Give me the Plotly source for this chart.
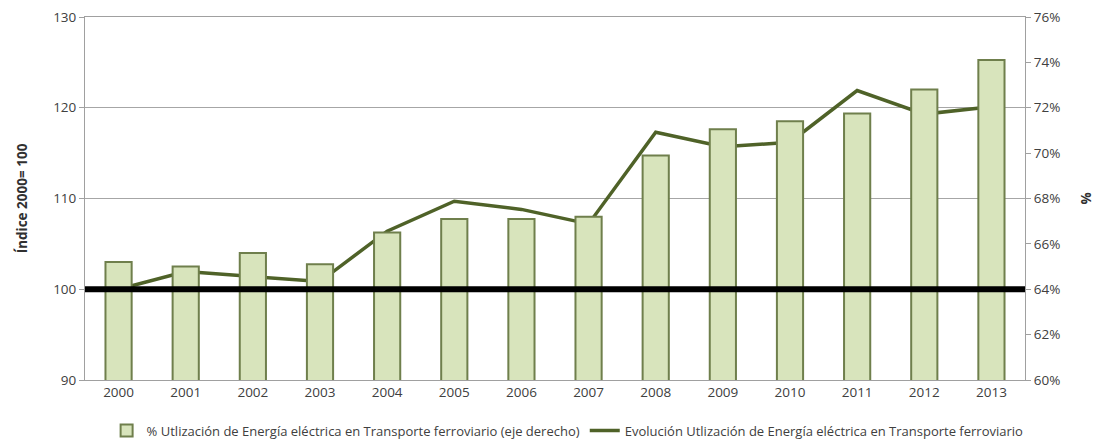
import plotly.graph_objects as go

years = ["2000", "2001", "2002", "2003", "2004", "2005", "2006",
         "2007", "2008", "2009", "2010", "2011", "2012", "2013"]
pct_electric = [65.2, 65.0, 65.6, 65.1, 66.5, 67.1, 67.1,
                67.2, 69.9, 71.05, 71.4, 71.75, 72.8, 74.1]
index_evolution = [100.0, 101.95, 101.4, 100.85, 106.4, 109.7, 108.8,
                   107.2, 117.3, 115.7, 116.2, 121.9, 119.3, 120.1]
base_index = 100
left_ticks = [90, 100, 110, 120, 130]
right_ticks = [60, 62, 64, 66, 68, 70, 72, 74, 76]

bar_name = "% Utlización de Energía eléctrica en Transporte ferroviario (eje derecho)"
line_name = "Evolución Utlización de Energía eléctrica en Transporte ferroviario"

font_family = "Open Sans, Liberation Sans, sans-serif"

fig = go.Figure()
fig.add_trace(go.Bar(
    x=years, y=pct_electric, name=bar_name, yaxis="y2",
    marker=dict(color="#d8e4bc", line=dict(color="#6f7f4c", width=2)),
    width=0.39,
))
fig.add_trace(go.Scatter(
    x=years, y=index_evolution, name=line_name, mode="lines",
    line=dict(color="#4f6228", width=3.5),
))

fig.add_shape(type="line", xref="paper", x0=0, x1=1, yref="y",
              y0=base_index, y1=base_index,
              line=dict(color="black", width=6), layer="above")

fig.update_layout(
    width=1093, height=432,
    margin=dict(l=77, r=76, t=9, b=60),
    paper_bgcolor="white", plot_bgcolor="white",
    font=dict(family=font_family, size=13, color="#404040"),
    showlegend=True,
    legend=dict(orientation="h", xref="container", yref="container",
                x=0.512, xanchor="center", y=0.022, yanchor="middle",
                font=dict(size=13, color="#404040"),
                itemwidth=30, traceorder="normal"),
    xaxis=dict(showgrid=False, showline=True, linecolor="#a0a0a0",
               mirror=True, ticks="", automargin=False,
               tickfont=dict(size=13.5, color="#404040")),
    yaxis=dict(range=[90, 130], tickvals=left_ticks, showgrid=True,
               gridcolor="#a6a6a6", gridwidth=1, zeroline=False,
               showline=True, linecolor="#a0a0a0", ticks="outside",
               ticklen=5, tickcolor="#a0a0a0", automargin=False,
               ticklabeloverflow="allow",
               tickfont=dict(size=13.5, color="#404040"),
               title=dict(text="<b>Índice 2000= 100</b>", standoff=22,
                          font=dict(size=13.5, color="#303030"))),
    yaxis2=dict(range=[60, 76], tickvals=right_ticks,
                ticktext=[f"{v}%" for v in right_ticks],
                overlaying="y", side="right", showgrid=False, zeroline=False,
                showline=True, linecolor="#a0a0a0", ticks="outside",
                ticklen=5, tickcolor="#a0a0a0", automargin=False,
                ticklabeloverflow="allow",
                tickfont=dict(size=13.5, color="#404040"),
                title=dict(text="<b>%</b>", standoff=22,
                           font=dict(size=13.5, color="#303030"))),
)

fig.write_html("out.html")
